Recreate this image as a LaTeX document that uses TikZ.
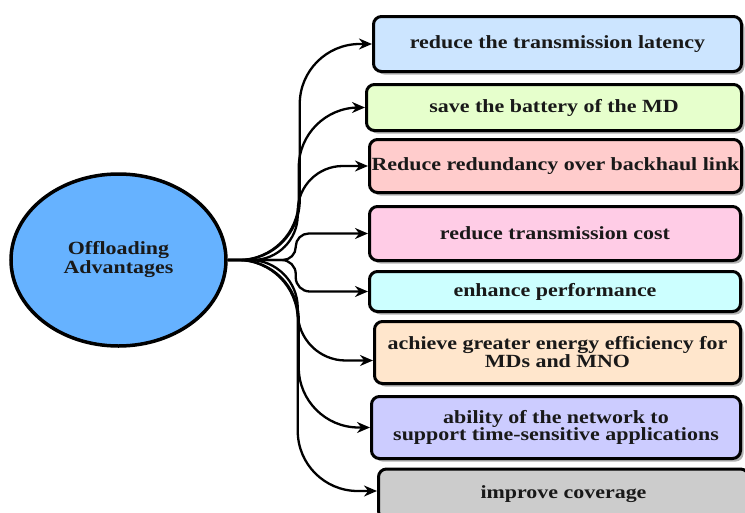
\documentclass[tikz,border=0pt]{standalone}
\usepackage{fontspec}
\setmainfont{Liberation Serif}[FakeStretch=1.18]
\usetikzlibrary{shapes.geometric,shadows,arrows.meta}
\definecolor{cBlue}{HTML}{CCE5FF}
\definecolor{cGreen}{HTML}{E6FFCC}
\definecolor{cRed}{HTML}{FFCCCC}
\definecolor{cPink}{HTML}{FFCCE6}
\definecolor{cCyan}{HTML}{CCFFFF}
\definecolor{cPeach}{HTML}{FFE6CC}
\definecolor{cLav}{HTML}{CCCCFF}
\definecolor{cGray}{HTML}{CCCCCC}
\definecolor{cEll}{HTML}{66B2FF}
\tikzset{
  advbox/.style={draw=black, line width=3pt, rounded corners=8pt, inner sep=0pt,
    align=center, text=black!90,
    font=\bfseries\fontsize{18.6}{17}\selectfont,
    drop shadow={shadow xshift=3pt, shadow yshift=-3pt, fill=black!30, opacity=1}},
  centre/.style={ellipse, draw=black, line width=3.5pt, fill=cEll, inner sep=0pt,
    align=center, text=black!90, font=\bfseries\fontsize{18.6}{21}\selectfont},
  arr/.style={line width=2.3pt, -{Stealth[length=13pt,width=11pt]}}
}
\begin{document}
\begin{tikzpicture}[x=1pt,y=-1pt]
\useasboundingbox (0,0) rectangle (745,512);
\clip (0,0) rectangle (745,512);
\node[centre, minimum width=215, minimum height=172] (e) at (118.5,260) {\raisebox{-3pt}{\begin{tabular}{@{}c@{}}Offloading\\[-2pt]Advantages\end{tabular}}};
\node[advbox, fill=cBlue,  minimum width=368, minimum height=55] (b1) at (557.5,44) {reduce the transmission latency};
\node[advbox, fill=cGreen, minimum width=375, minimum height=46] (b2) at (554,107.5) {save the battery of the MD};
\node[advbox, fill=cRed,   minimum width=372, minimum height=53] (b3) at (555.5,166) {Reduce redundancy over backhaul link};
\node[advbox, fill=cPink,  minimum width=371, minimum height=54] (b4) at (555,233.5) {reduce transmission cost};
\node[advbox, fill=cCyan,  minimum width=371, minimum height=40] (b5) at (555,291.5) {enhance performance};
\node[advbox, fill=cPeach, minimum width=366, minimum height=62, font=\bfseries\fontsize{18.6}{15}\selectfont] (b6) at (557.5,352.5) {achieve greater energy efficiency for\\MDs and MNO};
\node[advbox, fill=cLav,   minimum width=369, minimum height=62] (b7) at (556,427.5) {ability of the network to\\support time-sensitive applications};
\node[advbox, fill=cGray,  minimum width=370, minimum height=50] (b8) at (563.5,494) {improve coverage};
\draw[arr, rounded corners=60pt] (e.east) -- ++(72,0) |- (b1.west);
\draw[arr, rounded corners=60pt] (e.east) -- ++(71,0) |- (b2.west);
\draw[arr, rounded corners=45pt] (e.east) -- ++(70,0) |- (b3.west);
\draw[arr, rounded corners=13pt] (e.east) -- ++(68,0) |- (b4.west);
\draw[arr, rounded corners=14pt] (e.east) -- ++(68,0) |- (b5.west);
\draw[arr, rounded corners=48pt] (e.east) -- ++(70,0) |- ([yshift=-8pt]b6.west);
\draw[arr, rounded corners=60pt] (e.east) -- ++(71,0) |- (b7.west);
\draw[arr, rounded corners=60pt] (e.east) -- ++(70,0) |- ([yshift=3pt]b8.west);
\end{tikzpicture}
\end{document}
